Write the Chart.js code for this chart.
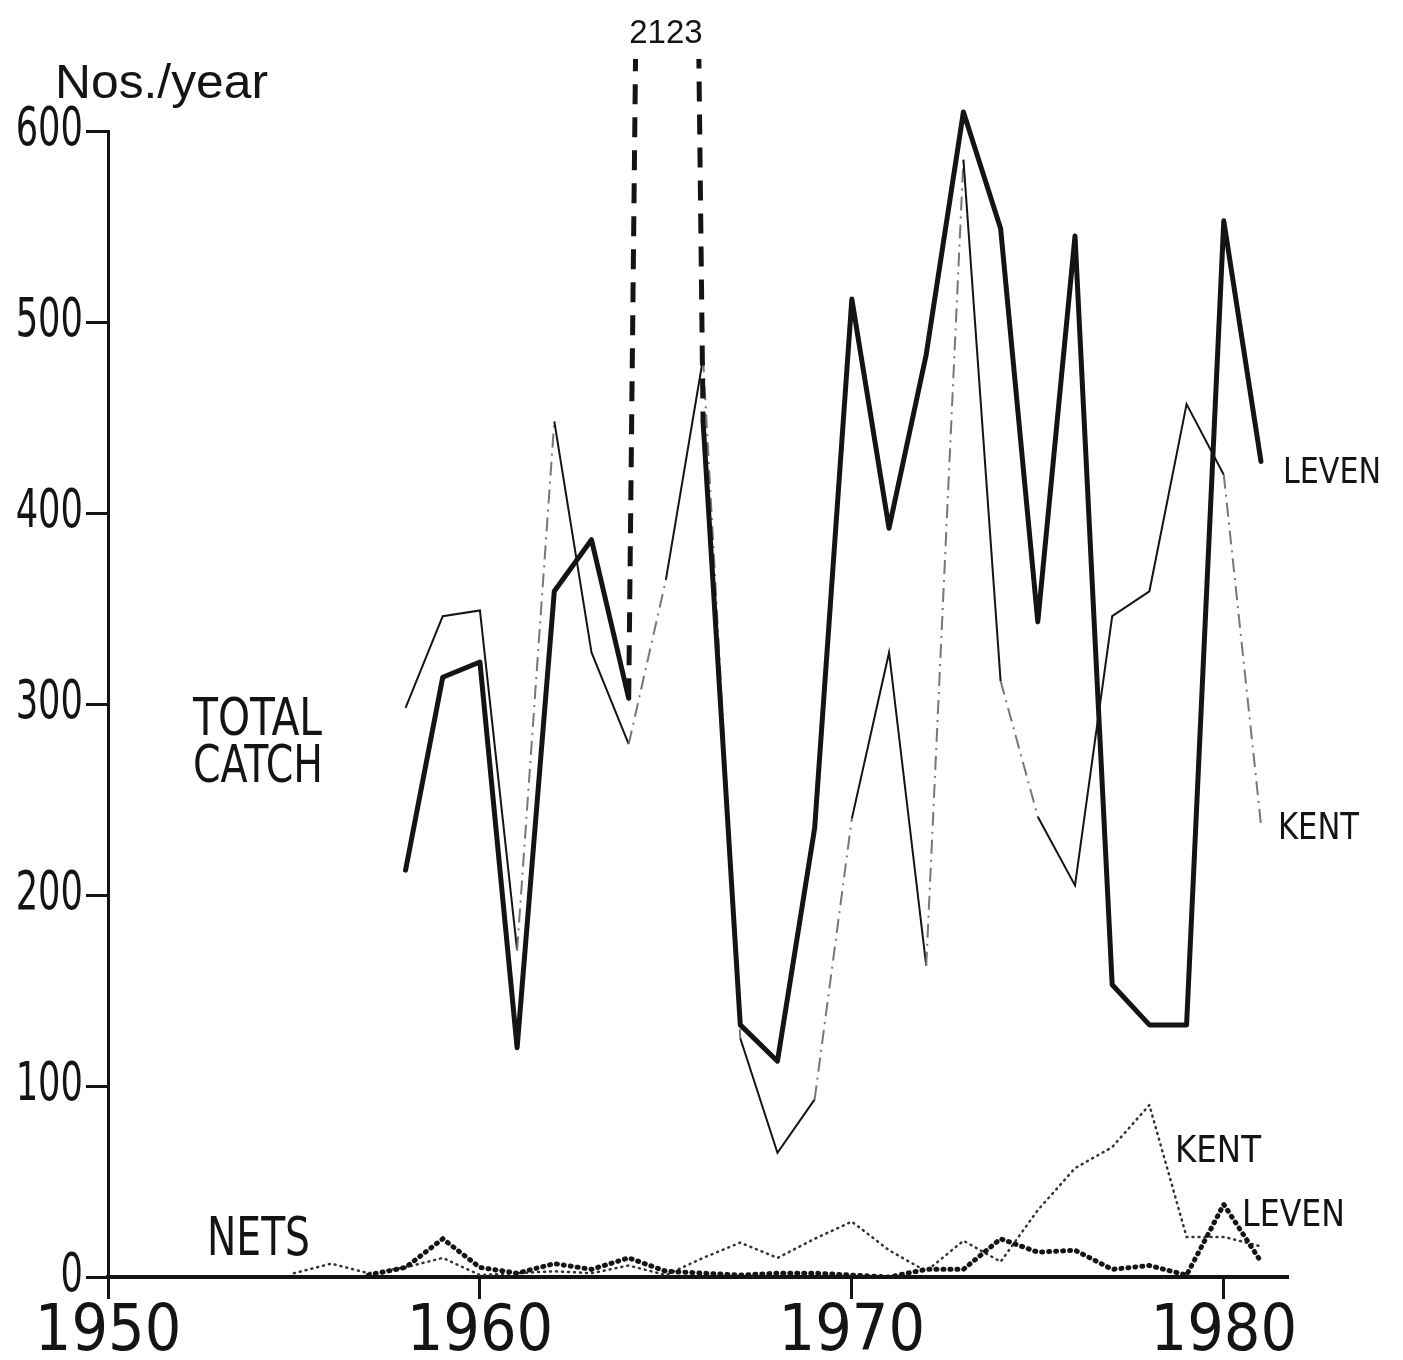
<!DOCTYPE html>
<html>
<head>
<meta charset="utf-8">
<script src="https://cdn.jsdelivr.net/npm/chart.js@4.4.1/dist/chart.umd.min.js"></script>
<style>
  html, body { margin: 0; padding: 0; background: #fff; }
  #wrap { width: 1403px; height: 1360px; position: relative; }
</style>
</head>
<body>
<div id="wrap"><canvas id="c" width="1403" height="1360"></canvas></div>
<script>
// ---- data ----
const totalYears = [1958,1959,1960,1961,1962,1963,1964,1965,1966,1967,1968,1969,1970,1971,1972,1973,1974,1975,1976,1977,1978,1979,1980,1981];
const levenTotal = [213,314,322,120,359,386,303,2123,448,132,113,235,512,392,483,610,549,343,545,153,132,132,553,427];
const kentTotal  = [298,346,349,171,448,327,279,365,481,125,65,93,240,327,163,585,312,241,205,346,359,457,420,237];

const levenNetYears = [1957,1958,1959,1960,1961,1962,1963,1964,1965,1966,1967,1968,1969,1970,1971,1972,1973,1974,1975,1976,1977,1978,1979,1980,1981];
const levenNets     = [1,5,20,5,2,7,4,10,3,2,1,2,2,1,0,4,4,20,13,14,4,6,1,38,8];

const kentNetYears = [1955,1956,1957,1958,1959,1960,1961,1962,1963,1964,1965,1966,1967,1968,1969,1970,1971,1972,1973,1974,1975,1976,1977,1978,1979,1980,1981];
const kentNets     = [2,7,2,5,10,1,2,3,2,6,1,10,18,10,20,29,14,3,19,8,35,57,68,90,21,21,16];

const xTicks = [1950,1960,1970,1980];
const yTicks = [0,100,200,300,400,500,600];

// segments of the KENT total line that are faint / broken in the original (start index)
const kentFaint = [3,6,8,11,14,16,22];
// segments of LEVEN total drawn dashed (around the off-scale 1965 value)
const levenDashed = [6,7];

const pts = (xs, ys) => xs.map((x, i) => ({ x: x, y: ys[i] }));

const INK = '#141414';
const COND = "'DejaVu Sans Condensed', 'DejaVu Sans', sans-serif";
const WIDE = "'Liberation Sans', 'DejaVu Sans', sans-serif";

function fitText(ctx, str, x, y, size, family, targetW) {
  ctx.font = size + 'px ' + family;
  const w = ctx.measureText(str).width;
  const k = targetW ? targetW / w : 1;
  ctx.save();
  ctx.translate(x, y);
  ctx.scale(k, 1);
  ctx.fillText(str, 0, 0);
  ctx.restore();
}

// narrow the y tick numbers horizontally (the original lettering is narrow)
const squeezeTicks = {
  id: 'squeezeTicks',
  beforeDraw(chart) {
    const s = chart.scales.y;
    if (s.__sq) return;
    const orig = s.drawLabels;
    s._computeLabelArea = () => undefined;
    s.drawLabels = function (area) {
      const ctx = this.ctx;
      const xr = this.right - this.options.grid.tickLength - this.options.ticks.padding;
      ctx.save();
      ctx.translate(xr, 0);
      ctx.scale(0.74, 1);
      ctx.translate(-xr, 0);
      orig.call(this, area);
      ctx.restore();
    };
    s.__sq = true;
  }
};

const labelsPlugin = {
  id: 'labels',
  afterDraw(chart) {
    const ctx = chart.ctx;
    const xs = chart.scales.x;
    ctx.save();
    ctx.fillStyle = INK;
    ctx.textBaseline = 'alphabetic';
    ctx.textAlign = 'left';
    fitText(ctx, 'Nos./year', 55, 98, 48, WIDE, 213);

    ctx.textAlign = 'center';
    ctx.font = '33px ' + WIDE;
    ctx.fillText('2123', xs.getPixelForValue(1965.0), 43);

    ctx.textAlign = 'left';
    fitText(ctx, 'TOTAL', 193, 735, 51, COND, 129);
    fitText(ctx, 'CATCH', 193, 782, 51, COND, 130);
    fitText(ctx, 'NETS', 207, 1255, 54, COND, 103);

    fitText(ctx, 'LEVEN', 1283, 483, 36, COND, 98);
    fitText(ctx, 'KENT', 1278, 839, 37, COND, 81);
    fitText(ctx, 'KENT', 1175, 1162, 37, COND, 86);
    fitText(ctx, 'LEVEN', 1242, 1226, 37, COND, 103);
    ctx.restore();
  }
};

new Chart(document.getElementById('c'), {
  type: 'line',
  data: {
    datasets: [
      {
        label: 'LEVEN total catch',
        data: pts(totalYears, levenTotal),
        borderColor: INK,
        borderWidth: 5,
        borderJoinStyle: 'round',
        borderCapStyle: 'round',
        pointRadius: 0,
        clip: { left: 10, top: 72, right: 10, bottom: 10 },
        segment: {
          borderDash: c => levenDashed.includes(c.p0DataIndex) ? [20, 13] : undefined,
          borderCapStyle: c => levenDashed.includes(c.p0DataIndex) ? 'butt' : undefined
        }
      },
      {
        label: 'KENT total catch',
        data: pts(totalYears, kentTotal),
        borderColor: INK,
        borderWidth: 2,
        pointRadius: 0,
        segment: {
          borderDash: c => kentFaint.includes(c.p0DataIndex) ? [14, 6, 2, 6] : undefined,
          borderColor: c => kentFaint.includes(c.p0DataIndex) ? '#777' : undefined
        }
      },
      {
        label: 'LEVEN nets',
        data: pts(levenNetYears, levenNets),
        borderColor: INK,
        borderWidth: 5,
        borderDash: [1, 6],
        borderCapStyle: 'round',
        pointRadius: 0
      },
      {
        label: 'KENT nets',
        data: pts(kentNetYears, kentNets),
        borderColor: '#333',
        borderWidth: 2.5,
        borderDash: [1, 5],
        borderCapStyle: 'round',
        pointRadius: 0
      }
    ]
  },
  options: {
    responsive: false,
    animation: false,
    events: [],
    layout: { padding: { top: 131, right: 116, bottom: 0, left: 0 } },
    plugins: { legend: { display: false }, tooltip: { enabled: false } },
    scales: {
      x: {
        type: 'linear',
        min: 1950,
        max: 1981.7,
        afterFit: s => { s.height = 83; },
        afterBuildTicks: s => { s.ticks = xTicks.map(v => ({ value: v })); },
        border: { display: true, color: INK, width: 4 },
        grid: { display: true, drawOnChartArea: false, drawTicks: true, tickLength: 22, color: INK, lineWidth: 3 },
        ticks: {
          color: INK,
          padding: -4,
          maxRotation: 0,
          font: { family: COND, size: 64 },
          callback: v => String(v)
        }
      },
      y: {
        type: 'linear',
        min: 0,
        max: 600,
        afterFit: s => { s.width = 108; },
        afterBuildTicks: s => { s.ticks = yTicks.map(v => ({ value: v })); },
        border: { display: true, color: INK, width: 3 },
        grid: { display: true, drawOnChartArea: false, drawTicks: true, tickLength: 22, color: INK, lineWidth: 3 },
        ticks: {
          color: INK,
          padding: 3,
          font: { family: COND, size: 53 },
          callback: v => String(v)
        }
      }
    }
  },
  plugins: [squeezeTicks, labelsPlugin]
});
</script>
</body>
</html>
